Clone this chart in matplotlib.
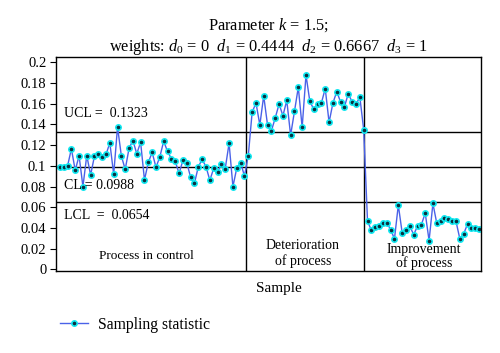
import matplotlib
matplotlib.use("Agg")
import matplotlib.pyplot as plt
from matplotlib.lines import Line2D

plt.rcParams['font.family'] = ['Liberation Serif', 'DejaVu Serif']
plt.rcParams['mathtext.fontset'] = 'custom'
plt.rcParams['mathtext.rm'] = 'Liberation Serif'
plt.rcParams['mathtext.it'] = 'Liberation Serif:italic'

# sampling statistic
in_control = [0.0986, 0.0986, 0.0998, 0.1165, 0.0957, 0.1098, 0.0800, 0.1100, 0.0912, 0.1094,
              0.1117, 0.1088, 0.1110, 0.1222, 0.0918, 0.1376, 0.1094, 0.0966, 0.1171, 0.1245,
              0.1117, 0.1229, 0.0864, 0.1034, 0.1130, 0.0986, 0.1088, 0.1238, 0.1139, 0.1069,
              0.1043, 0.0928, 0.1053, 0.1031, 0.0890, 0.0832, 0.0992, 0.1062, 0.0992, 0.0861,
              0.0976, 0.0944, 0.1014, 0.0973, 0.1219, 0.0800, 0.0979, 0.1031, 0.0902]
deterioration = [0.1100, 0.1520, 0.1607, 0.1395, 0.1677, 0.1395, 0.1338, 0.1463, 0.1597, 0.1485,
                 0.1632, 0.1296, 0.1526, 0.1760, 0.1372, 0.1878, 0.1622, 0.1549, 0.1597, 0.1607,
                 0.1747, 0.1420, 0.1607, 0.1718, 0.1616, 0.1571, 0.1699, 0.1616, 0.1597, 0.1664,
                 0.1350]
improvement = [0.0464, 0.0378, 0.0410, 0.0422, 0.0451, 0.0451, 0.0384, 0.0295, 0.0621, 0.0355,
               0.0378, 0.0416, 0.0336, 0.0419, 0.0432, 0.0544, 0.0278, 0.0637, 0.0445, 0.0470,
               0.0499, 0.0487, 0.0467, 0.0464, 0.0295, 0.0343, 0.0439, 0.0403, 0.0397, 0.0390]

ucl = 0.1323
cl = 0.0988
lcl = 0.0654
phase_breaks = [49.5, 80]
yticks = [0, 0.02, 0.04, 0.06, 0.08, 0.1, 0.12, 0.14, 0.16, 0.18, 0.2]
ytick_labels = ["0", "0.02", "0.04", "0.06", "0.08", "0.1", "0.12", "0.14", "0.16", "0.18", "0.2"]

values = in_control + deterioration + improvement
samples = list(range(1, len(values) + 1))

fig = plt.figure(figsize=(5, 3.53), dpi=100)
ax = fig.add_axes([0.112, 0.231, 0.85, 0.607])

for y in (ucl, cl, lcl):
    ax.axhline(y, color='black', lw=1)
for x in phase_breaks:
    ax.axvline(x, color='black', lw=1)

style = dict(color='#4a62e8', lw=1, marker='o', markersize=3.8,
             markerfacecolor='#0a3040', markeredgecolor='#10e8f0', markeredgewidth=1.2)
ax.plot(samples, values, **style)

ax.set_xlim(0, 110.5)
ax.set_ylim(-0.002, 0.205)
ax.set_xticks([])
ax.set_yticks(yticks)
ax.set_yticklabels(ytick_labels, fontsize=10.5)
ax.tick_params(axis='y', length=4, width=0.8, pad=3)
for s in ax.spines.values():
    s.set_linewidth(1)

ax.text(2, 0.151, "UCL =  0.1323", fontsize=10, va='center')
ax.text(2, 0.0806, "CL = 0.0988", fontsize=10, va='center')
ax.text(2, 0.0525, "LCL  =  0.0654", fontsize=10, va='center')
ax.text(23.4, 0.0128, "Process in control", fontsize=9.5, ha='center', va='center')
ax.text(64.2, 0.0154, "Deterioration\nof process", fontsize=10, ha='center', va='center',
        linespacing=1.15)
ax.text(95.7, 0.0122, "Improvement\nof process", fontsize=10, ha='center', va='center',
        linespacing=1.0)

ax.set_title("Parameter $k$ = 1.5;\nweights: $d_0$ = 0  $d_1$ = 0.4444  $d_2$ = 0.6667  $d_3$ = 1",
             fontsize=11.8, pad=4, linespacing=1.2)
ax.set_xlabel("Sample", fontsize=11, labelpad=4)
ax.xaxis.set_label_coords(0.524, -0.05)

handle = Line2D([], [], **style)
fig.legend([handle], ["Sampling statistic"], loc='center left',
           bbox_to_anchor=(0.091, 0.08), frameon=False, fontsize=11.3,
           handlelength=1.8, handletextpad=0.65)

fig.savefig("out.png", dpi=100)
